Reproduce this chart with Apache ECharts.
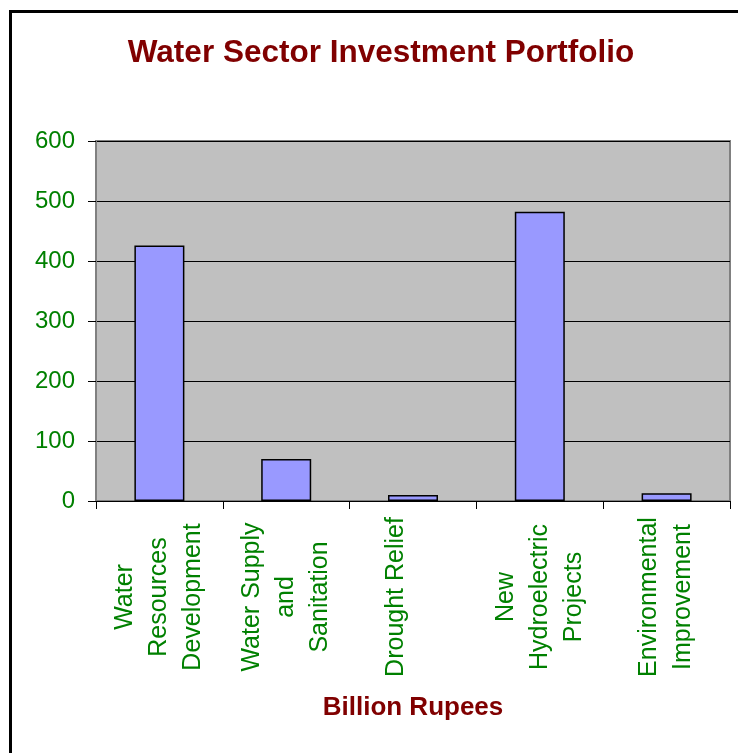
<!DOCTYPE html>
<html>
<head>
<meta charset="utf-8">
<script src="https://cdn.jsdelivr.net/npm/echarts@6/dist/echarts.min.js"></script>
<style>
html,body{margin:0;padding:0;background:#fff;}
#frame{position:absolute;left:9px;top:10px;width:740px;height:760px;border-left:3px solid #000;border-top:3px solid #000;box-sizing:border-box;}
#chart{position:absolute;left:0;top:0;width:738px;height:753px;}
</style>
</head>
<body>
<div id="frame"></div>
<div id="chart"></div>
<script>
var title = 'Water Sector Investment Portfolio';
var axisTitle = 'Billion Rupees';
var categories = ['Water Resources Development', 'Water Supply and Sanitation', 'Drought Relief', 'New Hydroelectric Projects', 'Environmental Improvement'];
var tickLabels = ['Water\nResources\nDevelopment', 'Water Supply\nand\nSanitation', 'Drought Relief\n', 'New\nHydroelectric\nProjects', 'Environmental\nImprovement'];
var values = [426, 70, 10, 482, 13];
var yTicks = [0, 100, 200, 300, 400, 500, 600];

var chart = echarts.init(document.getElementById('chart'), null, {renderer: 'canvas'});
var font = '"Liberation Sans", Arial, sans-serif';
chart.setOption({
  animation: false,
  backgroundColor: 'transparent',
  title: {show: false},
  grid: {left: 96, right: 8, top: 141, bottom: 252, show: true, backgroundColor: '#C0C0C0', borderColor: '#808080', borderWidth: 2},
  graphic: [{
    type: 'text', x: 381, y: 53,
    style: {text: title, fill: '#800000', font: 'bold 31.5px ' + font, align: 'center', verticalAlign: 'middle'}
  }, {
    type: 'text', x: 413, y: 708,
    style: {text: axisTitle, fill: '#800000', font: 'bold 26px ' + font, align: 'center', verticalAlign: 'middle'}
  }],
  xAxis: {
    type: 'category',
    data: categories,
    axisLine: {show: true, lineStyle: {color: '#000', width: 1}},
    axisTick: {show: true, alignWithLabel: false, length: 8, lineStyle: {color: '#000'}, inside: false},
    axisLabel: {
      interval: 0, rotate: 90, margin: 96, align: 'center', verticalAlign: 'middle',
      color: '#008000', fontFamily: font, fontSize: 25, lineHeight: 34,
      formatter: function (v, i) { return tickLabels[i]; }
    },
    splitLine: {show: false}
  },
  yAxis: {
    type: 'value', min: yTicks[0], max: yTicks[yTicks.length - 1], interval: 100,
    axisLine: {show: true, lineStyle: {color: '#808080', width: 2}},
    axisTick: {show: true, length: 8, lineStyle: {color: '#000'}},
    axisLabel: {color: '#008000', fontFamily: font, fontSize: 24, margin: 21},
    splitLine: {show: true, lineStyle: {color: '#000', width: 1}}
  },
  series: [{
    type: 'bar',
    data: values,
    barWidth: 50,
    itemStyle: {color: '#9999FF', borderColor: '#000', borderWidth: 1.5}
  }]
});
</script>
</body>
</html>
